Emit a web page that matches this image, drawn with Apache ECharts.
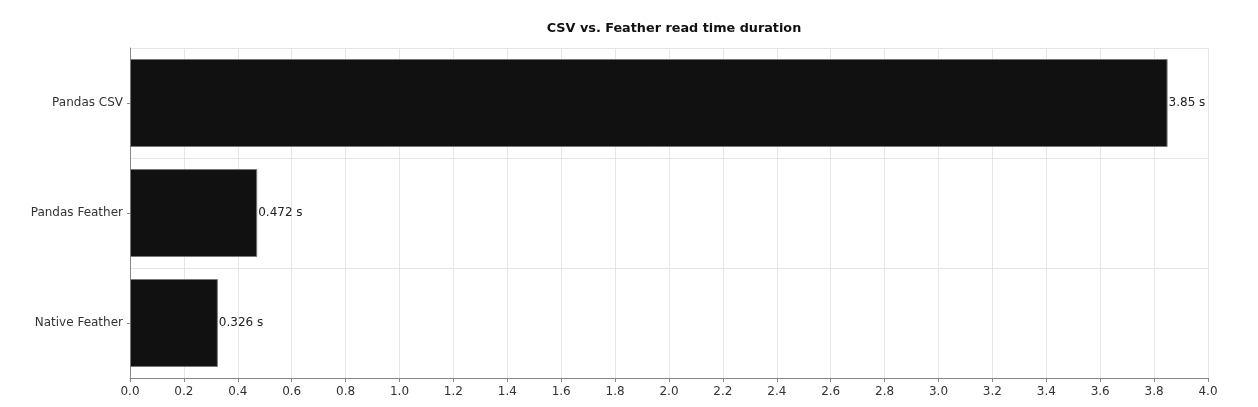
<!DOCTYPE html>
<html>
<head>
<meta charset="utf-8">
<script src="https://cdn.jsdelivr.net/npm/echarts@6/dist/echarts.min.js"></script>
<style>
  html, body { margin: 0; padding: 0; background: #fff; }
  #chart { width: 1258px; height: 407px; }
</style>
</head>
<body>
<div id="chart"></div>
<script>
// read times in seconds, top to bottom
const categories = ["Pandas CSV", "Pandas Feather", "Native Feather"];
const readTimes = [3.85, 0.472, 0.326];
const xTicks = { min: 0, max: 4, interval: 0.2 };

const font = "DejaVu Sans";
const chart = echarts.init(document.getElementById("chart"));

chart.setOption({
    animation: false,
    title: {
        text: "CSV vs. Feather read time duration",
        left: 669,
        top: 17,
        textAlign: "center",
        textStyle: { fontFamily: font, fontSize: 12.8, fontWeight: "bold", color: "#111" }
    },
    grid: { left: 130, right: 50, top: 48, bottom: 29, containLabel: false },
    xAxis: {
        type: "value",
        min: xTicks.min,
        max: xTicks.max,
        interval: xTicks.interval,
        axisLine: { show: true, lineStyle: { color: "#888", width: 1 } },
        axisTick: { show: true, length: 4, lineStyle: { color: "#888" } },
        axisLabel: {
            margin: 8,
            fontFamily: font,
            fontSize: 12,
            color: "#333",
            formatter: v => v.toFixed(1)
        },
        splitLine: { show: true, lineStyle: { color: "#e6e6e6", width: 1 } }
    },
    yAxis: {
        type: "category",
        data: categories,
        inverse: true,
        axisLine: { show: true, lineStyle: { color: "#888", width: 1 } },
        axisTick: { show: true, alignWithLabel: true, length: 3, lineStyle: { color: "#888" } },
        axisLabel: { margin: 7, fontFamily: font, fontSize: 12, color: "#333" },
        splitLine: { show: true, lineStyle: { color: "#e6e6e6", width: 1 } }
    },
    series: [{
        type: "bar",
        data: readTimes,
        barWidth: "80%",
        itemStyle: { color: "#111", borderColor: "#777", borderWidth: 1 },
        label: {
            show: true,
            position: "right",
            distance: 1,
            fontFamily: font,
            fontSize: 12,
            color: "#222",
            formatter: p => p.value + " s"
        }
    }]
});
</script>
</body>
</html>
